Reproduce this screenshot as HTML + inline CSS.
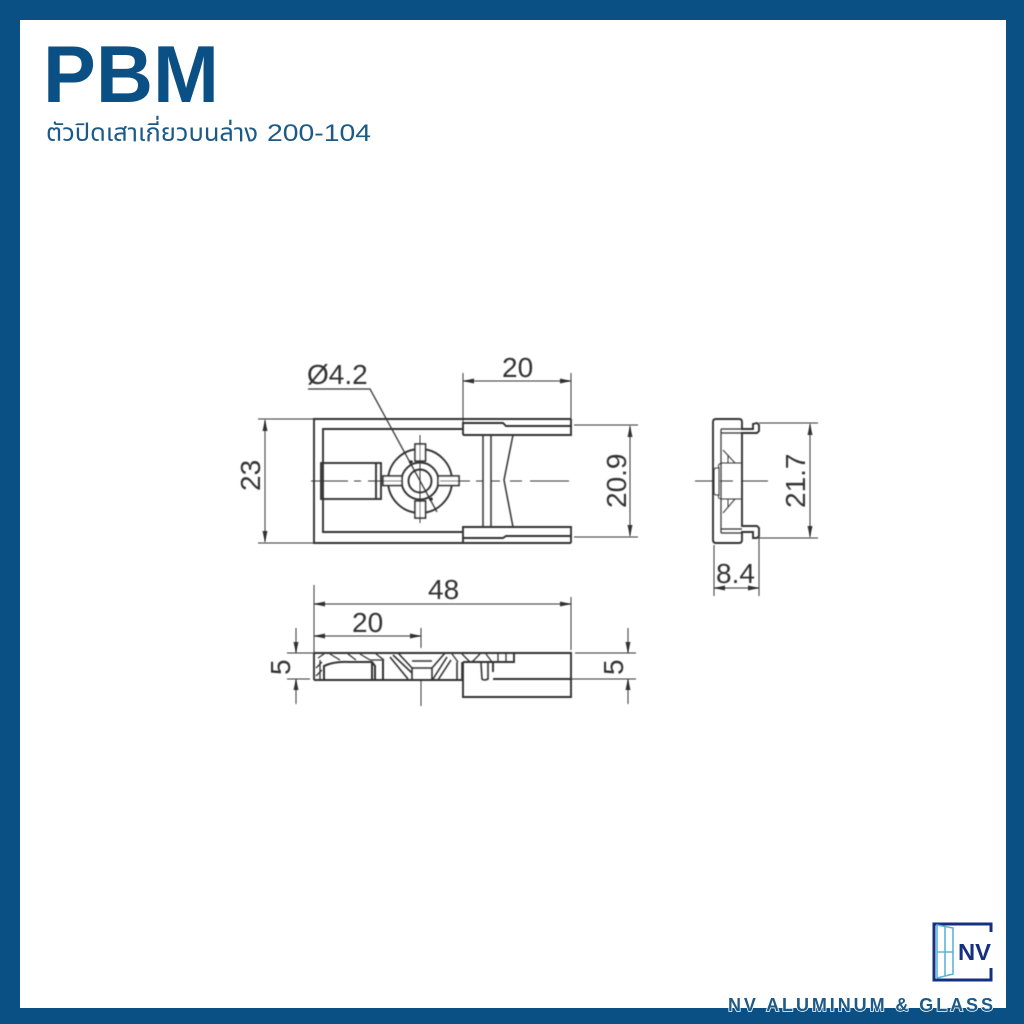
<!DOCTYPE html>
<html><head><meta charset="utf-8"><style>
html,body{margin:0;padding:0;background:#fff}
svg{display:block}
text{font-family:"Liberation Sans",sans-serif}
.d{font-size:28px;fill:#333}
</style></head><body>
<svg width="1024" height="1024" viewBox="0 0 1024 1024" xmlns="http://www.w3.org/2000/svg">
<defs><filter id="b" x="-5%" y="-5%" width="110%" height="110%"><feGaussianBlur stdDeviation="0.4"/></filter></defs>
<rect width="1024" height="1024" fill="#0b5084"/>
<rect x="20" y="20" width="986" height="988" fill="#fff"/>
<text x="43" y="102" font-size="81" font-weight="700" fill="#0b5084" textLength="176" lengthAdjust="spacingAndGlyphs">PBM</text>
<text x="46" y="141" font-size="25" fill="#1c5a88" textLength="212" lengthAdjust="spacingAndGlyphs" style='font-family:"Liberation Sans","Noto Sans Thai","DejaVu Sans",sans-serif'>ตัวปิดเสาเกี่ยวบนล่าง</text>
<text x="267" y="141" font-size="24" fill="#1c5a88" textLength="104" lengthAdjust="spacingAndGlyphs">200-104</text>

<g filter="url(#b)" fill="none" stroke="#333" stroke-width="1.900">
<!-- top view -->
<path d="M571 419H314V543H571M463 429H323V532H463"/>
<path d="M463 435V423H503L506 426H571M463 435H571V419"/>
<path d="M463 543V527H571V543M463 538H503L506 536H571"/>
<path d="M483 435V527M491 435V527M513 435L504 480L513 527" stroke-width="1.500"/>
<rect x="321" y="463" width="60" height="36"/><path d="M376 463V499"/>
<circle cx="420" cy="481" r="32"/><circle cx="420" cy="481" r="18.500"/><circle cx="420" cy="481" r="11.500"/>
<g fill="#fff" stroke-width="1.700"><rect x="415" y="444" width="10.500" height="17"/><rect x="415" y="501" width="10.500" height="17"/><rect x="383" y="476" width="19" height="9.500"/><rect x="438" y="476" width="21" height="9.500"/></g>
<g stroke-width="1">
<path d="M420 435V523M311 481H348M354 481H361M368 481H402M440 481H470M476 481H483M491 481H500M510 481H522M530 481H569"/>
<path d="M308 389H370L437 512" stroke-width="1.300"/>
<path d="M258 419H314M258 543H314M463 373V424M571 373V424M574 425H638M574 537H638"/>
<path d="M265 420V542M463 381H571M630 426V536"/>
</g>
<!-- side view -->
<path d="M716 419H739Q742 419 742 422V429H753V424L757 423L759 425V431L757 433H742V526H757L759 528V536L757 538H753V532H742V540Q742 543 739 543H716Q713 543 713 540V422Q713 419 716 419Z"/>
<path d="M721 429V533M721 429H742M721 433H742M721 529H742M721 533H742" stroke-width="1.200"/>
<path d="M716 468H719V495H716Q714 495 714 492V471Q714 468 716 468ZM719 468Q717 464 722 463H741M719 495Q717 499 722 499H741M723 450L735 463M723 513L735 499M728 463V455M728 499V507" stroke-width="1"/>
<g stroke-width="1">
<path d="M695 481H714M720 481H733M729 481H733M741 481H768M759 423H818M759 538H818M714 545V596M759 533V596"/>
<path d="M810 424V537M714 588H759"/>
</g>
<!-- bottom view -->
<path d="M314 653H514V662H463M314 680V653M314 680H463M463 662V697H571V653H514M493 679H571M493 662V672"/>
<path d="M324 680V666Q334 661 350 662H372L375 666V680M383 680V660M372 680V662" stroke-width="2"/>
<path d="M390 657L408 679M393 655L412 673M398 653L412 668H432L445 653M412 668V680M432 668V680M412 661H432M447 657L433 679M451 660L438 680M462 662V680M457 662V680M488 662V679Q484 681 482 679L481 663" stroke-width="1.600"/>
<path d="M318 658L324 654M330 654L340 660M348 654L356 660M360 654L370 660M376 654L384 660M452 654L458 662M462 654L470 662M472 662L480 654M486 654L492 662M498 654V662M506 654V662M316 668L322 662M316 676L322 670M370 660H382M320 660V680" stroke-width="1.300"/>
<g stroke-width="1">
<path d="M314 585V653M421 628V648M421 680V706M571 597V650M287 653H314M287 679H310M575 653H636M494 679H636"/>
<path d="M314 604H571M314 636H421M296 628V653M296 679V704M628 628V653M628 679V704"/>
</g>
</g>
<g filter="url(#b)" fill="#333">
<!-- arrowheads -->
<path d="M265 420l-2.500 11h5zM265 542l-2.500-11h5zM463 381l11-2.500v5zM571 381l-11-2.500v5zM630 426l-2.500 11h5zM630 536l-2.500-11h5zM810 424l-2.500 11h5zM810 537l-2.500-11h5zM714 588l11-2.500v5zM759 588l-11-2.500v5zM314 604l11-2.500v5zM571 604l-11-2.500v5zM314 636l11-2.500v5zM421 636l-11-2.500v5zM296 653l-2.500-11h5zM296 679l-2.500 11h5zM628 653l-2.500-11h5zM628 679l-2.500 11h5z"/>
<circle cx="411" cy="462" r="1.800"/><circle cx="431" cy="499" r="1.800"/>
<text class="d" x="307" y="384">Ø4.2</text>
<text class="d" x="502" y="377">20</text>
<text class="d" x="428" y="599">48</text>
<text class="d" x="352" y="632">20</text>
<text class="d" x="716" y="583">8.4</text>
<text class="d" transform="translate(260,491) rotate(-90)">23</text>
<text class="d" transform="translate(626,508) rotate(-90)">20.9</text>
<text class="d" transform="translate(805,508) rotate(-90)">21.7</text>
<text class="d" transform="translate(290,675) rotate(-90)">5</text>
<text class="d" transform="translate(623,675) rotate(-90)">5</text>
</g>
<!-- logo -->
<path d="M991 932V924H934V980H991V968" fill="none" stroke="#14307f" stroke-width="3"/>
<path d="M937 925L953 928V974L937 978ZM945 927V976M937 952H953" fill="none" stroke="#5bb5d8" stroke-width="1.600"/>
<text x="958" y="960" font-size="23" font-weight="700" fill="#14307f" textLength="33" lengthAdjust="spacingAndGlyphs">NV</text>
<text x="728" y="1011" font-size="18" font-weight="700" fill="#1c5a88" stroke="#fff" stroke-width="1.500" paint-order="stroke" textLength="265" lengthAdjust="spacing">NV ALUMINUM &amp; GLASS</text>
</svg>
</body></html>
